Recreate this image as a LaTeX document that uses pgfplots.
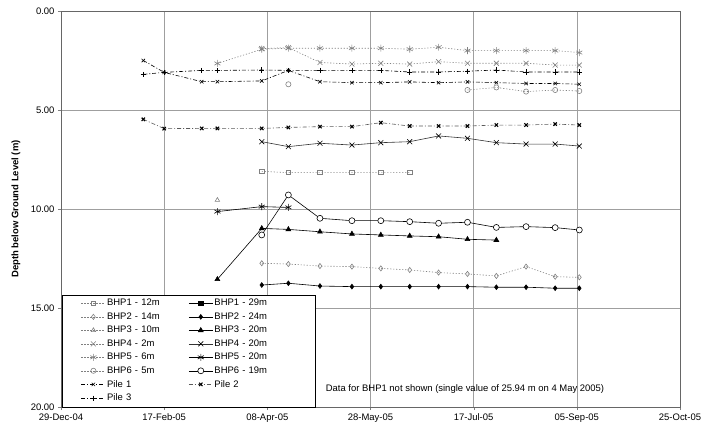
\documentclass[border=0pt]{standalone}
\usepackage{fontspec}
\setmainfont{Liberation Sans}
\usepackage{pgfplots}
\pgfplotsset{compat=1.18}
\usetikzlibrary{calc}
\begin{document}
\begin{tikzpicture}
\begin{axis}[
  scale only axis, width=619bp, height=396bp,
  xmin=0, xmax=300, ymin=0, ymax=20, y dir=reverse,
  xtick={0,50,100,150,200,250,300},
  xticklabels={29-Dec-04,17-Feb-05,08-Apr-05,28-May-05,17-Jul-05,05-Sep-05,25-Oct-05},
  ytick={0,5,10,15,20},
  scaled y ticks=false,
  yticklabel style={/pgf/number format/.cd, fixed, fixed zerofill, precision=2},
  /pgf/number format/assume math mode=true,
  tick label style={font=\fontsize{9.5}{11}\selectfont},
  tick align=outside, tick pos=left,
  major tick length=3bp,
  grid=major,
  major grid style={gray!75, line width=0.6pt},
  axis line style={gray!80!black, line width=0.6pt},
  ylabel={\textbf{Depth below Ground Level (m)}},
  ylabel style={font=\fontsize{9.5}{11}\selectfont, at={(axis description cs:-0.0727,0.5)}, anchor=center},
  unbounded coords=jump,
  clip=false,
  legend columns=2,
  legend cell align=left,
  legend style={at={(axis description cs:0,0)}, anchor=south west, xshift=1bp,
    draw=black, fill=white, font=\fontsize{9.5}{11}\selectfont,
    nodes={inner sep=1.5pt, text width=80bp}, row sep=2.4pt, inner xsep=19bp, inner ysep=3pt},
  legend image code/.code={\draw[mark repeat=2,mark phase=2] plot coordinates {(0cm,0cm) (0.42cm,0cm) (0.84cm,0cm)};},
  every axis plot/.append style={line width=0.6pt},
]
% BHP1 - 12m
\addplot[gray, dash pattern=on 1.2pt off 1.8pt, mark=square, mark size=2.2pt, mark options={solid, gray}]
 coordinates {(97.3,8.1)(110.2,8.16)(125.5,8.16)(141,8.16)(155,8.16)(169,8.16)};
\addlegendentry{BHP1 - 12m}
% BHP1 - 29m (no data shown)
\addlegendimage{black, mark=square*, mark size=2.2pt, mark options={solid, black}}
\addlegendentry{BHP1 - 29m}
% BHP2 - 14m
\addplot[gray, dash pattern=on 1.2pt off 1.8pt, mark=diamond, mark size=2.6pt, mark options={solid, gray}]
 coordinates {(97.3,12.74)(110.2,12.78)(125.5,12.88)(141,12.91)(155,13.0)(169,13.08)(183,13.21)(197,13.28)(211,13.38)(225.4,12.91)(239.5,13.42)(251.2,13.45)};
\addlegendentry{BHP2 - 14m}
% BHP2 - 24m
\addplot[black, mark=diamond*, mark size=2.4pt, mark options={solid, black}]
 coordinates {(97.3,13.84)(110.2,13.75)(125.5,13.89)(141,13.92)(155,13.92)(169,13.92)(183,13.92)(197,13.92)(211,13.95)(225.4,13.95)(239.5,14.0)(251.2,14.0)};
\addlegendentry{BHP2 - 24m}
% BHP3 - 10m
\addplot[gray, dash pattern=on 1.2pt off 1.8pt, mark=triangle, mark size=2.6pt, mark options={solid, gray}]
 coordinates {(75.8,9.55)};
\addlegendentry{BHP3 - 10m}
% BHP3 - 20m
\addplot[black, mark=triangle*, mark size=2.8pt, mark options={solid, black}]
 coordinates {(75.8,13.55)(97.3,10.98)(110.2,11.03)(125.5,11.15)(141,11.26)(155,11.31)(169,11.36)(183,11.4)(197,11.53)(211,11.57)};
\addlegendentry{BHP3 - 20m}
% BHP4 - 2m
\addplot[gray, dash pattern=on 1.2pt off 1.8pt, mark=x, mark size=3.5pt, mark options={solid, gray}]
 coordinates {(97.3,1.9)(110.2,1.85)(125.5,2.6)(141,2.68)(155,2.64)(169,2.68)(183,2.56)(197,2.64)(211,2.64)(225.4,2.64)(239.5,2.73)(251.2,2.73)};
\addlegendentry{BHP4 - 2m}
% BHP4 - 20m
\addplot[gray!40!black, mark=x, mark size=3.5pt, mark options={solid, black}]
 coordinates {(97.3,6.6)(110.2,6.85)(125.5,6.68)(141,6.77)(155,6.65)(169,6.6)(183,6.31)(197,6.43)(211,6.65)(225.4,6.72)(239.5,6.72)(251.2,6.82)};
\addlegendentry{BHP4 - 20m}
% BHP5 - 6m
\addplot[gray, dash pattern=on 1.2pt off 1.8pt, mark=asterisk, mark size=3.5pt, mark options={solid, gray}]
 coordinates {(75.8,2.65)(97.3,1.93)(110.2,1.88)(125.5,1.88)(141,1.88)(155,1.88)(169,1.93)(183,1.83)(197,2.0)(211,2.0)(225.4,2.0)(239.5,2.0)(251.2,2.1)};
\addlegendentry{BHP5 - 6m}
% BHP5 - 20m
\addplot[black, mark=asterisk, mark size=3.5pt, mark options={solid, black}]
 coordinates {(75.8,10.13)(97.3,9.88)(110.2,9.92)};
\addlegendentry{BHP5 - 20m}
% BHP6 - 5m
\addplot[gray, dash pattern=on 1.2pt off 1.8pt, mark=o, mark size=2.6pt, mark options={solid, gray}]
 coordinates {(110.2,3.7)(150,nan)(197,3.99)(211,3.86)(225.4,4.07)(239.5,3.99)(251.2,4.04)};
\addlegendentry{BHP6 - 5m}
% BHP6 - 19m
\addplot[black, mark=*, mark size=3pt, mark options={solid, draw=black, fill=white}]
 coordinates {(97.3,11.31)(110.2,9.29)(125.5,10.47)(141,10.59)(155,10.59)(169,10.64)(183,10.72)(197,10.67)(211,10.93)(225.4,10.89)(239.5,10.94)(251.2,11.06)};
\addlegendentry{BHP6 - 19m}
% Pile 1
\addplot[black, dash pattern=on 4pt off 2pt on 1pt off 2pt, mark=x, mark size=2.4pt, mark options={solid, black}]
 coordinates {(39.9,2.5)(50,3.1)(68.2,3.57)(75.8,3.57)(97.3,3.53)(110.2,3.0)(125.5,3.57)(141,3.62)(155,3.62)(169,3.58)(183,3.62)(197,3.58)(211,3.62)(225.4,3.66)(239.5,3.66)(251.2,3.7)};
\addlegendentry{Pile 1}
% Pile 2
\addplot[gray!70!black, dash pattern=on 4pt off 2pt on 1pt off 2pt, mark=x, mark size=2.4pt, mark options={solid, black, line width=1.1pt}]
 coordinates {(39.9,5.47)(50,5.94)(68.2,5.93)(75.8,5.93)(97.3,5.93)(110.2,5.88)(125.5,5.84)(141,5.84)(155,5.64)(169,5.81)(183,5.81)(197,5.81)(211,5.76)(225.4,5.76)(239.5,5.71)(251.2,5.76)};
\addlegendentry{Pile 2}
% Pile 3
\addplot[black, dash pattern=on 4pt off 2pt on 1pt off 2pt, mark=+, mark size=2.6pt, mark options={solid, black}]
 coordinates {(39.9,3.2)(50,3.1)(68.2,3.0)(75.8,3.0)(97.3,2.98)(110.2,3.0)(125.5,3.0)(141,3.0)(155,3.0)(169,3.08)(183,3.08)(197,3.04)(211,2.98)(225.4,3.08)(239.5,3.08)(251.2,3.08)};
\addlegendentry{Pile 3}
\node[font=\fontsize{9.5}{11}\selectfont] at (axis cs:195.8,19.1) {Data for BHP1 not shown (single value of 25.94 m on 4 May 2005)};
\end{axis}
\pgfresetboundingbox
\path ($(current axis.south west)+(-61bp,-17bp)$) rectangle ($(current axis.north east)+(21bp,11bp)$);
\end{tikzpicture}
\end{document}
